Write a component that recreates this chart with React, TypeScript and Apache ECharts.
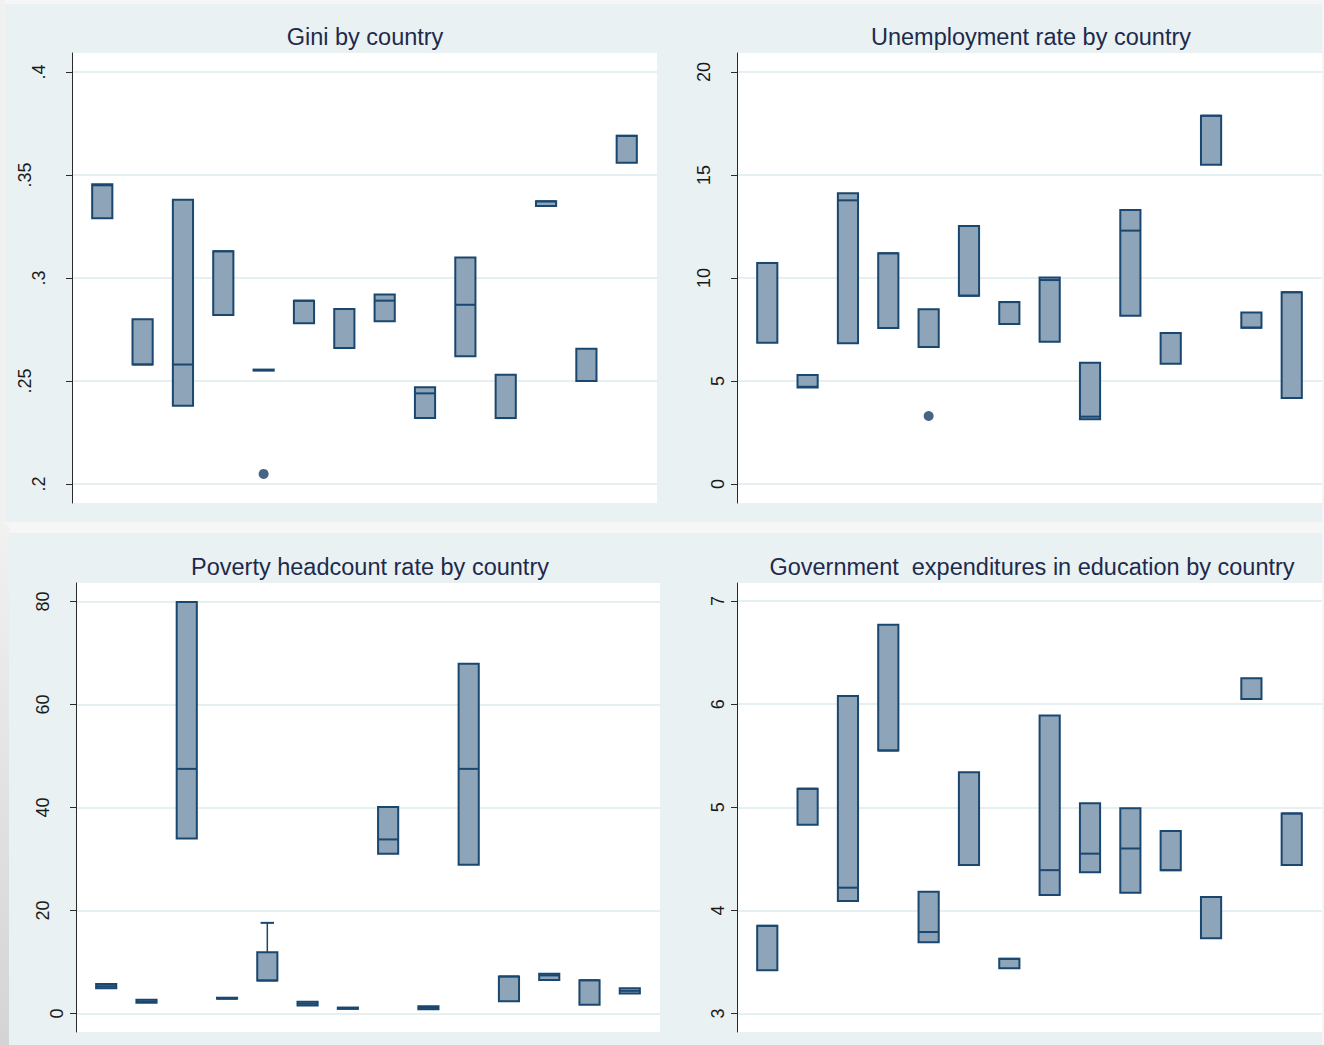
import React, { useEffect, useRef } from "react";
import * as echarts from "echarts";

// ---------- data ----------
const countries = [1, 2, 3, 4, 5, 6, 7, 8, 9, 10, 11, 12, 13, 14];

const giniQ1 = [0.329, 0.258, 0.238, 0.282, 0.2553, 0.278, 0.266, 0.279, 0.232, 0.262, 0.232, 0.335, 0.25, 0.356];
const giniMed = [0.345, 0.258, 0.258, 0.313, 0.2553, 0.289, 0.266, 0.289, 0.244, 0.287, 0.232, 0.3372, 0.25, 0.369];
const giniQ3 = [0.3455, 0.28, 0.338, 0.313, 0.2553, 0.289, 0.285, 0.292, 0.247, 0.31, 0.253, 0.3372, 0.2657, 0.369];
const giniUpperWhisker: (number | null)[] = [null, null, null, null, null, null, null, null, null, null, null, null, null, null];
const giniOutliers = [[5, 0.2049]];
const giniTicks = [0.2, 0.25, 0.3, 0.35, 0.4];

const unempQ1 = [6.86, 4.68, 6.83, 7.57, 6.65, 9.14, 7.77, 6.91, 3.14, 8.17, 5.84, 15.5, 7.59, 4.17];
const unempMed = [10.73, 4.72, 13.77, 11.2, 6.65, 9.14, 8.83, 9.9, 3.27, 12.3, 7.33, 17.88, 7.59, 9.31];
const unempQ3 = [10.73, 5.29, 14.11, 11.2, 8.48, 12.52, 8.83, 10.03, 5.89, 13.3, 7.33, 17.88, 8.33, 9.31];
const unempUpperWhisker: (number | null)[] = [null, null, null, null, null, null, null, null, null, null, null, null, null, null];
const unempOutliers = [[5, 3.3]];
const unempTicks = [0, 5, 10, 15, 20];

const povQ1 = [4.9, 2.07, 34.0, 2.9, 6.4, 1.55, 0.9, 31.0, 0.84, 28.9, 2.4, 6.5, 1.68, 3.87];
const povMed = [5.3, 2.3, 47.5, 2.9, 6.4, 1.9, 1.0, 33.8, 1.1, 47.5, 7.2, 7.4, 6.46, 4.4];
const povQ3 = [5.75, 2.65, 79.9, 2.97, 11.9, 2.27, 1.16, 40.1, 1.42, 67.9, 7.2, 7.7, 6.46, 4.9];
const povUpperWhisker: (number | null)[] = [null, null, null, null, 17.6, null, null, null, null, null, null, null, null, null];
const povOutliers: number[][] = [];
const povTicks = [0, 20, 40, 60, 80];

const eduQ1 = [3.42, 4.83, 4.09, 5.55, 3.69, 4.44, 3.44, 4.15, 4.37, 4.17, 4.39, 3.73, 6.05, 4.44];
const eduMed = [3.85, 5.18, 4.22, 5.55, 3.79, 4.44, 3.53, 4.39, 4.55, 4.6, 4.39, 4.13, 6.05, 4.94];
const eduQ3 = [3.85, 5.18, 6.08, 6.77, 4.18, 5.34, 3.53, 5.89, 5.04, 4.99, 4.77, 4.13, 6.25, 4.94];
const eduUpperWhisker: (number | null)[] = [null, null, null, null, null, null, null, null, null, null, null, null, null, null];
const eduOutliers: number[][] = [];
const eduTicks = [3, 4, 5, 6, 7];

const titles = [
  "Gini by country",
  "Unemployment rate by country",
  "Poverty headcount rate by country",
  "Government  expenditures in education by country",
];

// ---------- styling / layout ----------
const BG = "#E9F1F3";
const NAVY = "#1A476F";
const FILL = "#8EA4B9";
const FONT = "Liberation Sans, Arial, sans-serif";

const fmtLead = (v: number) => {
  const s = String(+v.toFixed(3));
  return s.replace(/^0\./, ".");
};

export default function App() {
  const ref = useRef<HTMLDivElement>(null);

  useEffect(() => {
    if (!ref.current) return;
    const chart = echarts.init(ref.current, null, { renderer: "svg" });

    const panels = [
      { q1: giniQ1, med: giniMed, q3: giniQ3, hi: giniUpperWhisker, out: giniOutliers, ticks: giniTicks, min: 0.19078, max: 0.40922, grid: { left: 72, top: 53, width: 585, height: 450 }, tx: 365, ty: 37, lead: true },
      { q1: unempQ1, med: unempMed, q3: unempQ3, hi: unempUpperWhisker, out: unempOutliers, ticks: unempTicks, min: -0.922, max: 20.922, grid: { left: 737, top: 53, width: 585, height: 450 }, tx: 1031, ty: 37, lead: false },
      { q1: povQ1, med: povMed, q3: povQ3, hi: povUpperWhisker, out: povOutliers, ticks: povTicks, min: -3.59, max: 83.59, grid: { left: 76, top: 583, width: 584, height: 449 }, tx: 370, ty: 567, lead: false },
      { q1: eduQ1, med: eduMed, q3: eduQ3, hi: eduUpperWhisker, out: eduOutliers, ticks: eduTicks, min: 2.8206, max: 7.1746, grid: { left: 737, top: 583, width: 585, height: 449 }, tx: 1032, ty: 567, lead: false },
    ];

    const grids: any[] = [];
    const xAxes: any[] = [];
    const yAxes: any[] = [];
    const series: any[] = [];
    const graphics: any[] = [
      { type: "rect", z: -10, silent: true, shape: { x: 0, y: 0, width: 5, height: 525 }, style: { fill: "#F1F1F1" } },
      { type: "rect", z: -10, silent: true, shape: { x: 5, y: 4, width: 1317, height: 518 }, style: { fill: BG } },
      { type: "rect", z: -10, silent: true, shape: { x: 9, y: 533, width: 1313, height: 512 }, style: { fill: BG } },
      {
        type: "rect", z: -10, silent: true, shape: { x: 0, y: 525, width: 9, height: 520 },
        style: { fill: new echarts.graphic.LinearGradient(0, 0, 0, 1, [{ offset: 0, color: "#F1F1F1" }, { offset: 1, color: "#D4D4D4" }]) },
      },
    ];

    panels.forEach((p, i) => {
      grids.push({ ...p.grid, show: true, backgroundColor: "#FFFFFF", borderWidth: 0, containLabel: false });
      xAxes.push({ type: "value", gridIndex: i, min: 0.25, max: 14.75, show: false });
      yAxes.push({
        type: "value",
        gridIndex: i,
        min: p.min,
        max: p.max,
        axisLine: { show: true, lineStyle: { color: "#2A2A2A", width: 1 } },
        axisTick: { show: true, length: 6, customValues: p.ticks, lineStyle: { color: "#2A2A2A", width: 1 } },
        splitLine: { show: true, lineStyle: { color: "#E6EFF2", width: 2 } },
        axisLabel: {
          customValues: p.ticks,
          rotate: 90,
          margin: 10,
          fontFamily: FONT,
          fontSize: 18,
          color: "#1A1A1A",
          formatter: (v: number) => {
            const s = p.lead ? fmtLead(v) : String(v);
            return `{l${Math.min(s.length, 3)}|${s}}`;
          },
          rich: {
            l1: { fontSize: 18, color: "#1A1A1A", fontFamily: FONT, padding: [0, 0, 0, 0] },
            l2: { fontSize: 18, color: "#1A1A1A", fontFamily: FONT, padding: [0, 0, 14, 0] },
            l3: { fontSize: 18, color: "#1A1A1A", fontFamily: FONT, padding: [0, 0, 28, 0] },
          },
        },
      });

      const data = countries.map((c, k) => [c, p.q1[k], p.med[k], p.q3[k], p.hi[k] == null ? p.q3[k] : (p.hi[k] as number)]);

      series.push({
        type: "custom",
        xAxisIndex: i,
        yAxisIndex: i,
        data,
        encode: { x: 0, y: [1, 2, 3, 4] },
        clip: true,
        renderItem: (params: any, api: any) => {
          const x = api.value(0);
          const q1 = api.value(1);
          const med = api.value(2);
          const q3 = api.value(3);
          const hi = api.value(4);
          const [cx, yQ1] = api.coord([x, q1]);
          const yQ3 = api.coord([x, q3])[1];
          const yMed = api.coord([x, med])[1];
          const yHi = api.coord([x, hi])[1];
          const w = api.size([0.5, 0])[0];
          const children: any[] = [];
          if (hi > q3) {
            children.push({ type: "line", shape: { x1: cx, y1: yQ3, x2: cx, y2: yHi }, style: { stroke: NAVY, lineWidth: 1.5 } });
            children.push({ type: "line", shape: { x1: cx - w / 3, y1: yHi, x2: cx + w / 3, y2: yHi }, style: { stroke: NAVY, lineWidth: 2 } });
          }
          const h = yQ1 - yQ3;
          children.push({
            type: "rect",
            shape: { x: cx - w / 2, y: h < 1 ? yQ3 - 0.5 : yQ3, width: w, height: Math.max(h, 1) },
            style: { fill: FILL, stroke: NAVY, lineWidth: 2 },
          });
          children.push({ type: "line", shape: { x1: cx - w / 2, y1: yMed, x2: cx + w / 2, y2: yMed }, style: { stroke: NAVY, lineWidth: 2 } });
          return { type: "group", children };
        },
      });

      if (p.out.length) {
        series.push({
          type: "scatter",
          xAxisIndex: i,
          yAxisIndex: i,
          data: p.out,
          symbol: "circle",
          symbolSize: 10,
          itemStyle: { color: "#163E63" },
        });
      }

      graphics.push({
        type: "text",
        z: 10,
        x: p.tx,
        y: p.ty,
        style: {
          text: titles[i],
          fontFamily: FONT,
          fontSize: 23.5,
          fill: "#1E2A4B",
          textAlign: "center",
          textVerticalAlign: "middle",
        },
      });
    });

    chart.setOption({
      animation: false,
      backgroundColor: "#F6F6F6",
      grid: grids,
      xAxis: xAxes,
      yAxis: yAxes,
      series,
      graphic: graphics,
    });

    return () => chart.dispose();
  }, []);

  return <div ref={ref} style={{ position: "absolute", left: 0, top: 0, width: 1324, height: 1045 }} />;
}
